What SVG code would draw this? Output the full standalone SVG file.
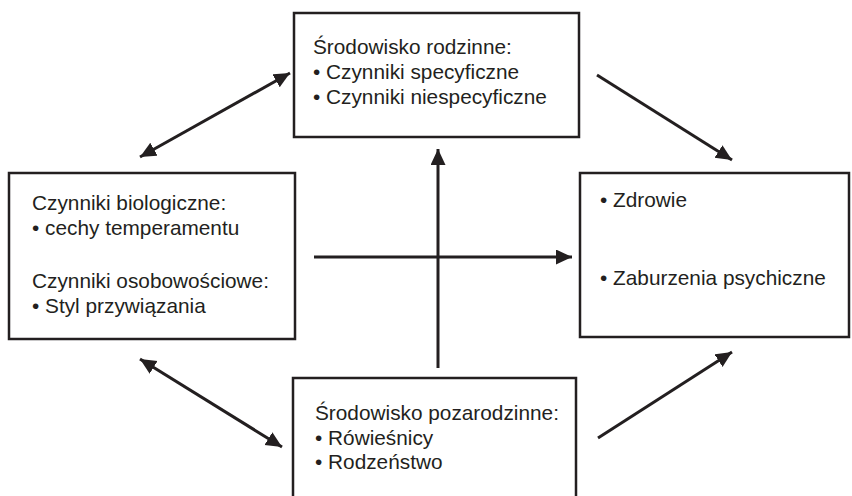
<svg xmlns="http://www.w3.org/2000/svg" width="852" height="496" viewBox="0 0 852 496">
<style>
  .box { fill: #ffffff; stroke: #231f20; stroke-width: 2.5; }
  .t { font-family: "Liberation Sans", Arial, sans-serif; font-size: 20.8px; fill: #231f20; }
  .c { stroke: #231f20; stroke-width: 3; fill: none; }
</style>
<defs>
  <marker id="ah" markerUnits="userSpaceOnUse" markerWidth="18" markerHeight="16" refX="16" refY="7.5" orient="auto-start-reverse" viewBox="0 0 18 16">
    <path d="M0,0 L16,7.5 L0,15 Z" fill="#231f20"/>
  </marker>
</defs>
<rect width="852" height="496" fill="#ffffff"/>
<g id="connectors">
  <line class="c" x1="140" y1="157" x2="290" y2="73" marker-start="url(#ah)" marker-end="url(#ah)"/>
  <line class="c" x1="140" y1="359" x2="282" y2="447" marker-start="url(#ah)" marker-end="url(#ah)"/>
  <line class="c" x1="597" y1="75" x2="732" y2="160" marker-end="url(#ah)"/>
  <line class="c" x1="598" y1="438" x2="732" y2="352" marker-end="url(#ah)"/>
  <line class="c" x1="314" y1="257" x2="572" y2="257" marker-end="url(#ah)"/>
  <line class="c" x1="438" y1="368" x2="438" y2="149" marker-end="url(#ah)"/>
</g>
<g id="node-rodzinne">
  <rect class="box" x="294" y="13" width="285" height="124"/>
  <text class="t" x="313" y="54">Środowisko rodzinne:</text>
  <text class="t" x="313" y="79">• Czynniki specyficzne</text>
  <text class="t" x="313" y="104">• Czynniki niespecyficzne</text>
</g>
<g id="node-biologiczne">
  <rect class="box" x="9" y="173" width="286" height="166"/>
  <text class="t" x="32" y="210">Czynniki biologiczne:</text>
  <text class="t" x="32" y="235">• cechy temperamentu</text>
  <text class="t" x="32" y="288">Czynniki osobowościowe:</text>
  <text class="t" x="32" y="313">• Styl przywiązania</text>
</g>
<g id="node-zdrowie">
  <rect class="box" x="580" y="173" width="269" height="164"/>
  <text class="t" x="600" y="207">• Zdrowie</text>
  <text class="t" x="600" y="285">• Zaburzenia psychiczne</text>
</g>
<g id="node-pozarodzinne">
  <rect class="box" x="293" y="378" width="283" height="130"/>
  <text class="t" x="315" y="420">Środowisko pozarodzinne:</text>
  <text class="t" x="315" y="445">• Rówieśnicy</text>
  <text class="t" x="315" y="469">• Rodzeństwo</text>
</g>
</svg>
